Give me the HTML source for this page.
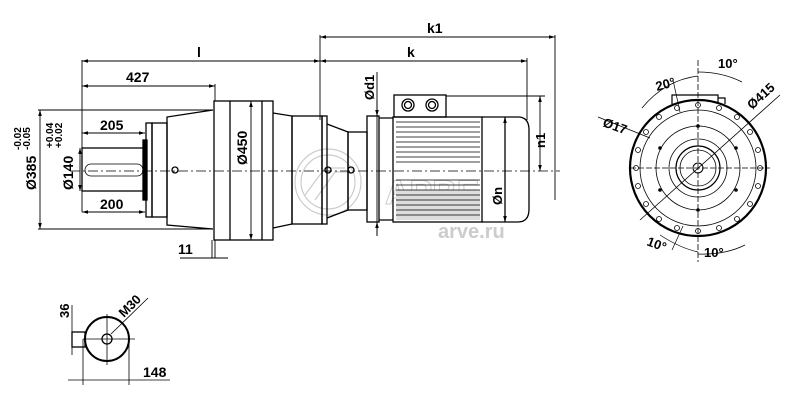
<!DOCTYPE html>
<html><head><meta charset="utf-8"><style>
html,body{margin:0;padding:0;background:#fff;width:809px;height:408px;overflow:hidden}
svg{display:block}
text{font-family:"Liberation Sans",Arial,sans-serif;font-weight:bold;fill:#000}
</style></head><body>
<svg width="809" height="408" viewBox="0 0 809 408" xmlns="http://www.w3.org/2000/svg">
<defs>
<marker id="a" viewBox="0 0 10 6" refX="10" refY="3" markerWidth="8" markerHeight="4" orient="auto-start-reverse"><path d="M0,0L10,3L0,6z" fill="#000"/></marker>
</defs>
<g fill="none" stroke="#ccc" stroke-width="1.2">
<circle cx="328" cy="182" r="33"/><circle cx="328" cy="182" r="27"/>
<path d="M305,195 L325,168 L345,168 M315,200 L335,172 L350,172"/>
<text x="385" y="204" font-size="34" font-weight="normal" fill="none" stroke="#ccc" stroke-width="1" style="fill:none">АРВЕ</text>
<text x="438" y="238" font-size="20" font-weight="normal" stroke="none" style="fill:#ccc">arve.ru</text>
</g>
<line x1="70" y1="171" x2="560" y2="171" stroke="#000" stroke-width="0.8" stroke-dasharray="10,3,2,3"/>
<g fill="none" stroke="#000" stroke-width="1.3">
<rect x="82" y="148" width="63" height="43"/>
<path d="M91,164 H137 A6,6 0 0 1 137,176 H91 A6,6 0 0 1 91,164Z" stroke-width="0.8"/>
<rect x="143" y="140" width="4" height="60" fill="#000"/>
<rect x="146" y="123" width="6" height="94"/>
<rect x="152" y="123" width="15" height="94"/>
<path d="M167,123 V117 L213,110 M167,217 V225 L213,229"/>
<line x1="167" y1="123" x2="167" y2="217"/>
<circle cx="175" cy="170" r="3"/>
<rect x="214" y="101" width="59" height="139"/>
<line x1="230" y1="101" x2="230" y2="240"/>
<line x1="262" y1="101" x2="262" y2="240"/>
<path d="M273,113 L292,116 V224 L273,228"/>
<rect x="292" y="116" width="30" height="108"/>
<rect x="322" y="116" width="5" height="108"/>
<path d="M327,124 L348,132 V210 L327,218"/>
<rect x="348" y="132" width="19" height="78"/>
<circle cx="328" cy="170" r="3"/><circle cx="351" cy="170" r="3"/>
<rect x="367" y="116" width="12" height="106"/>
<path d="M379,118 H393 M379,220 H393"/>
<rect x="393" y="117" width="89" height="105"/>
<path d="M482,117 H518 Q529,117 529,130 V209 Q529,222 518,222 H482" />
<line x1="505" y1="117" x2="505" y2="222"/>
<rect x="394" y="95" width="52" height="22"/>
<circle cx="408" cy="105" r="6"/><circle cx="408" cy="105" r="3.5"/>
<circle cx="432" cy="105" r="6"/><circle cx="432" cy="105" r="3.5"/>
</g>
<rect x="396" y="190" width="84" height="30" fill="#ddd"/>
<g stroke="#000" stroke-width="0.7">
<line x1="396" y1="122" x2="480" y2="122"/><line x1="396" y1="127" x2="480" y2="127"/>
<line x1="396" y1="132" x2="480" y2="132"/><line x1="396" y1="137" x2="480" y2="137"/>
<line x1="396" y1="142" x2="480" y2="142"/><line x1="396" y1="147" x2="480" y2="147"/>
<line x1="396" y1="152" x2="480" y2="152"/><line x1="396" y1="157" x2="480" y2="157"/>
<line x1="396" y1="162" x2="480" y2="162"/><line x1="396" y1="180" x2="480" y2="180"/>
<line x1="396" y1="185" x2="480" y2="185"/><line x1="396" y1="190" x2="480" y2="190"/>
<line x1="396" y1="195" x2="480" y2="195"/><line x1="396" y1="200" x2="480" y2="200"/>
<line x1="396" y1="205" x2="480" y2="205"/><line x1="396" y1="210" x2="480" y2="210"/>
<line x1="396" y1="215" x2="480" y2="215"/>
</g>
<g stroke="#000" stroke-width="0.9" fill="none">
<line x1="82" y1="60" x2="82" y2="212"/>
<line x1="320" y1="35" x2="320" y2="120"/>
<line x1="555" y1="35" x2="555" y2="200"/>
<line x1="527" y1="58" x2="527" y2="120"/>
<line x1="82" y1="61" x2="320" y2="61" marker-start="url(#a)" marker-end="url(#a)"/>
<line x1="320" y1="37" x2="555" y2="37" marker-start="url(#a)" marker-end="url(#a)"/>
<line x1="320" y1="61" x2="527" y2="61" marker-start="url(#a)" marker-end="url(#a)"/>
<line x1="82" y1="86" x2="215" y2="86" marker-start="url(#a)" marker-end="url(#a)"/>
<line x1="215" y1="84" x2="215" y2="101"/>
<line x1="82" y1="133" x2="145" y2="133" marker-start="url(#a)" marker-end="url(#a)"/>
<line x1="82" y1="212" x2="145" y2="212" marker-start="url(#a)" marker-end="url(#a)"/>
<line x1="38" y1="110" x2="213" y2="110"/><line x1="38" y1="229" x2="213" y2="229"/>
<line x1="40" y1="110" x2="40" y2="229" marker-start="url(#a)" marker-end="url(#a)"/>
<line x1="80" y1="148" x2="80" y2="191" marker-start="url(#a)" marker-end="url(#a)"/>
<line x1="251" y1="101" x2="251" y2="240" marker-start="url(#a)" marker-end="url(#a)"/>
<line x1="212" y1="240" x2="212" y2="258"/><line x1="215" y1="240" x2="215" y2="258"/>
<line x1="180" y1="258" x2="228" y2="258"/>
<line x1="377" y1="72" x2="377" y2="236"/>
<line x1="377" y1="100" x2="377" y2="116" marker-end="url(#a)"/>
<line x1="377" y1="236" x2="377" y2="222" marker-end="url(#a)"/>
<line x1="446" y1="96" x2="545" y2="96"/>
<line x1="540" y1="96" x2="540" y2="171" marker-start="url(#a)" marker-end="url(#a)"/>
<line x1="505" y1="117" x2="505" y2="222" marker-start="url(#a)" marker-end="url(#a)"/>
</g>
<text x="197" y="57" font-size="14">l</text>
<text x="126" y="82" font-size="14">427</text>
<text x="427" y="33" font-size="14">k1</text>
<text x="407" y="57" font-size="14">k</text>
<text x="100" y="130" font-size="14">205</text>
<text x="100" y="209" font-size="14">200</text>
<text x="178" y="254" font-size="14">11</text>
<text transform="translate(247,165) rotate(-90)" font-size="14">Ø450</text>
<text transform="translate(36,190) rotate(-90)" font-size="14">Ø385</text>
<text transform="translate(21,150) rotate(-90)" font-size="10">-0.02</text>
<text transform="translate(30,150) rotate(-90)" font-size="10">-0.05</text>
<text transform="translate(73,190) rotate(-90)" font-size="14">Ø140</text>
<text transform="translate(53,148) rotate(-90)" font-size="10">+0.04</text>
<text transform="translate(62,148) rotate(-90)" font-size="10">+0.02</text>
<text transform="translate(374,100) rotate(-90)" font-size="13">Ød1</text>
<text transform="translate(502,205) rotate(-90)" font-size="13">Øn</text>
<text transform="translate(545,148) rotate(-90)" font-size="13">n1</text>
<g stroke="#000" fill="none" stroke-width="1.3">
<circle cx="107" cy="339" r="22" stroke-width="2"/>
<circle cx="107" cy="339" r="5"/>
<rect x="72" y="332" width="13" height="15"/>
</g>
<g stroke="#000" stroke-width="0.8" fill="none">
<line x1="83" y1="339" x2="135" y2="339"/><line x1="107" y1="314" x2="107" y2="365"/>
<line x1="111" y1="334" x2="148" y2="298"/>
<line x1="72" y1="305" x2="72" y2="355"/>
<line x1="83" y1="339" x2="83" y2="385"/><line x1="129" y1="339" x2="129" y2="385"/>
<line x1="68" y1="380" x2="170" y2="380"/>
</g>
<text transform="translate(69,318) rotate(-90)" font-size="13">36</text>
<text transform="translate(124,318) rotate(-45)" font-size="13">M30</text>
<text x="143" y="377" font-size="14">148</text>
<g stroke="#000" fill="none">
<circle cx="698" cy="168" r="68" stroke-width="2.2"/>
<circle cx="698" cy="168" r="58" stroke-width="0.8"/>
<circle cx="698" cy="168" r="42" stroke-width="0.8"/>
<circle cx="698" cy="168" r="29" stroke-width="0.8"/>
<circle cx="698" cy="168" r="22" stroke-width="1.2"/>
<circle cx="698" cy="168" r="18" stroke-width="0.8"/>
<circle cx="698" cy="168" r="5" stroke-width="1"/>
<path d="M672,104 V95 H718 V104 M718,98 H725 V104" stroke-width="1.2"/>
<line x1="630" y1="168" x2="770" y2="168" stroke-width="0.8" stroke-dasharray="6,2"/>
<line x1="698" y1="60" x2="698" y2="262" stroke-width="0.8" stroke-dasharray="6,2"/>
<line x1="640" y1="220" x2="780" y2="95" stroke-width="0.8"/>
<line x1="598" y1="117" x2="650" y2="138" stroke-width="0.8"/>
<path d="M642,108 Q665,80 698,76" stroke-width="0.7"/>
<path d="M698,72 Q722,72 742,82" stroke-width="0.7"/>
<path d="M660,235 Q680,248 698,252" stroke-width="0.7"/>
<path d="M698,254 Q725,255 745,245" stroke-width="0.7"/>
<line x1="673" y1="80" x2="680" y2="112" stroke-width="0.7"/>
<line x1="672" y1="250" x2="683" y2="226" stroke-width="0.7"/>
</g>
<g fill="none" stroke="#000" stroke-width="0.8">
<circle cx="698" cy="105" r="2.5"/><circle cx="719" cy="108" r="2.5"/><circle cx="737" cy="117" r="2.5"/>
<circle cx="750" cy="132" r="2.5"/><circle cx="758" cy="150" r="2.5"/><circle cx="760" cy="168" r="2.5"/>
<circle cx="758" cy="186" r="2.5"/><circle cx="750" cy="204" r="2.5"/><circle cx="737" cy="219" r="2.5"/>
<circle cx="719" cy="228" r="2.5"/><circle cx="698" cy="231" r="2.5"/><circle cx="677" cy="228" r="2.5"/>
<circle cx="659" cy="219" r="2.5"/><circle cx="646" cy="204" r="2.5"/><circle cx="638" cy="186" r="2.5"/>
<circle cx="636" cy="168" r="2.5"/><circle cx="638" cy="150" r="2.5"/><circle cx="646" cy="132" r="2.5"/>
<circle cx="659" cy="117" r="2.5"/><circle cx="677" cy="108" r="2.5"/>
</g>
<g fill="#000">
<circle cx="698" cy="126" r="1.8"/><circle cx="698" cy="210" r="1.8"/>
<circle cx="660" cy="148" r="1.8"/><circle cx="736" cy="148" r="1.8"/>
<circle cx="660" cy="190" r="1.8"/><circle cx="736" cy="190" r="1.8"/>
</g>
<text x="718" y="68" font-size="13">10°</text>
<text x="657" y="91" font-size="13" transform="rotate(-15 657 91)">20°</text>
<text x="602" y="126" font-size="13" transform="rotate(20 602 126)">Ø17</text>
<text x="752" y="110" font-size="13" transform="rotate(-42 752 110)">Ø415</text>
<text x="646" y="245" font-size="13" transform="rotate(20 646 245)">10°</text>
<text x="704" y="257" font-size="13">10°</text>
</svg>
</body></html>
